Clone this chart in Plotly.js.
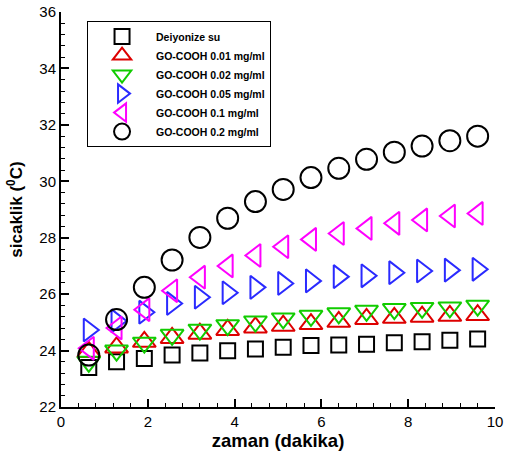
<!DOCTYPE html>
<html>
<head>
<meta charset="utf-8">
<script src="https://cdn.plot.ly/plotly-3.0.1.min.js"></script>
<style>html,body{margin:0;padding:0;background:#fff;}#chart{width:505px;height:454px;}</style>
</head>
<body>
<div id="chart"></div>
<script>
var zaman = [0.64, 1.28, 1.92, 2.56, 3.2, 3.84, 4.48, 5.12, 5.76, 6.4, 7.04, 7.68, 8.32, 8.96, 9.6];
var deiyonize = [23.4, 23.6, 23.72, 23.84, 23.91, 23.99, 24.06, 24.12, 24.18, 24.2, 24.22, 24.28, 24.31, 24.37, 24.41];
var go001 = [23.95, 24.11, 24.31, 24.45, 24.6, 24.73, 24.82, 24.88, 24.94, 25.02, 25.12, 25.16, 25.2, 25.23, 25.26];
var go002 = [23.6, 24.0, 24.28, 24.56, 24.74, 24.9, 25.03, 25.14, 25.23, 25.32, 25.41, 25.47, 25.51, 25.53, 25.59];
var go005 = [24.73, 25.05, 25.36, 25.67, 25.89, 26.05, 26.24, 26.38, 26.47, 26.62, 26.65, 26.76, 26.82, 26.85, 26.88];
var go01 = [24.08, 24.8, 25.45, 26.12, 26.6, 27.0, 27.37, 27.68, 27.94, 28.15, 28.33, 28.51, 28.63, 28.77, 28.86];
var go02 = [23.84, 25.1, 26.24, 27.21, 28.01, 28.69, 29.28, 29.71, 30.13, 30.46, 30.78, 31.03, 31.25, 31.44, 31.6];

var seriesNames = ['Deiyonize su', 'GO-COOH 0.01 mg/ml', 'GO-COOH 0.02 mg/ml', 'GO-COOH 0.05 mg/ml', 'GO-COOH 0.1 mg/ml', 'GO-COOH 0.2 mg/ml'];
var seriesValues = [deiyonize, go001, go002, go005, go01, go02];
var symbols = ['square-open', 'triangle-up-open', 'triangle-down-open', 'triangle-right-open', 'triangle-left-open', 'circle-open'];
var colors = ['#000000', '#dd0000', '#11cc00', '#2a2aff', '#ff00ff', '#000000'];
var sizes = [15, 20, 20, 20, 20, 21];

var traces = seriesValues.map(function (vals, i) {
  return {
    type: 'scatter',
    mode: 'markers',
    x: zaman,
    y: vals,
    name: '<b>' + seriesNames[i] + '</b>',
    marker: {symbol: symbols[i], size: sizes[i], color: colors[i], line: {color: colors[i], width: 2}},
    cliponaxis: false
  };
});

var layout = {
  width: 505,
  height: 454,
  margin: {l: 61, r: 10, t: 12, b: 47},
  paper_bgcolor: '#ffffff',
  plot_bgcolor: '#ffffff',
  font: {family: 'Liberation Sans, Arial, sans-serif', color: '#000', size: 15},
  showlegend: true,
  legend: {
    x: 0.06, y: 0.977, xanchor: 'left', yanchor: 'top',
    bordercolor: '#000', borderwidth: 1, bgcolor: '#ffffff',
    font: {size: 10.5, family: 'Liberation Sans, Arial, sans-serif', color: '#000'},
    tracegroupgap: 0,
    itemwidth: 58,
    itemsizing: 'trace'
  },
  xaxis: {
    range: [0, 10],
    dtick: 2,
    tick0: 0,
    showline: true, linecolor: '#000', linewidth: 2,
    ticks: 'inside', ticklen: 8, tickwidth: 2, tickcolor: '#000',
    minor: {dtick: 0.4, ticks: 'inside', ticklen: 4, tickwidth: 1, tickcolor: '#000'},
    showgrid: false, zeroline: false,
    title: {text: '<b>zaman (dakika)</b>', font: {size: 18.5}, standoff: 3},
    tickfont: {size: 15}
  },
  yaxis: {
    range: [22, 36],
    dtick: 2,
    tick0: 22,
    showline: true, linecolor: '#000', linewidth: 2,
    ticks: 'inside', ticklen: 8, tickwidth: 2, tickcolor: '#000',
    minor: {dtick: 0.4, ticks: 'inside', ticklen: 4, tickwidth: 1, tickcolor: '#000'},
    showgrid: false, zeroline: false,
    title: {text: '<b>sicaklik (<sup>0</sup>C)</b>', font: {size: 17}, standoff: 12},
    tickfont: {size: 15}
  }
};

Plotly.newPlot('chart', traces, layout, {displayModeBar: false, staticPlot: true});
</script>
</body>
</html>
